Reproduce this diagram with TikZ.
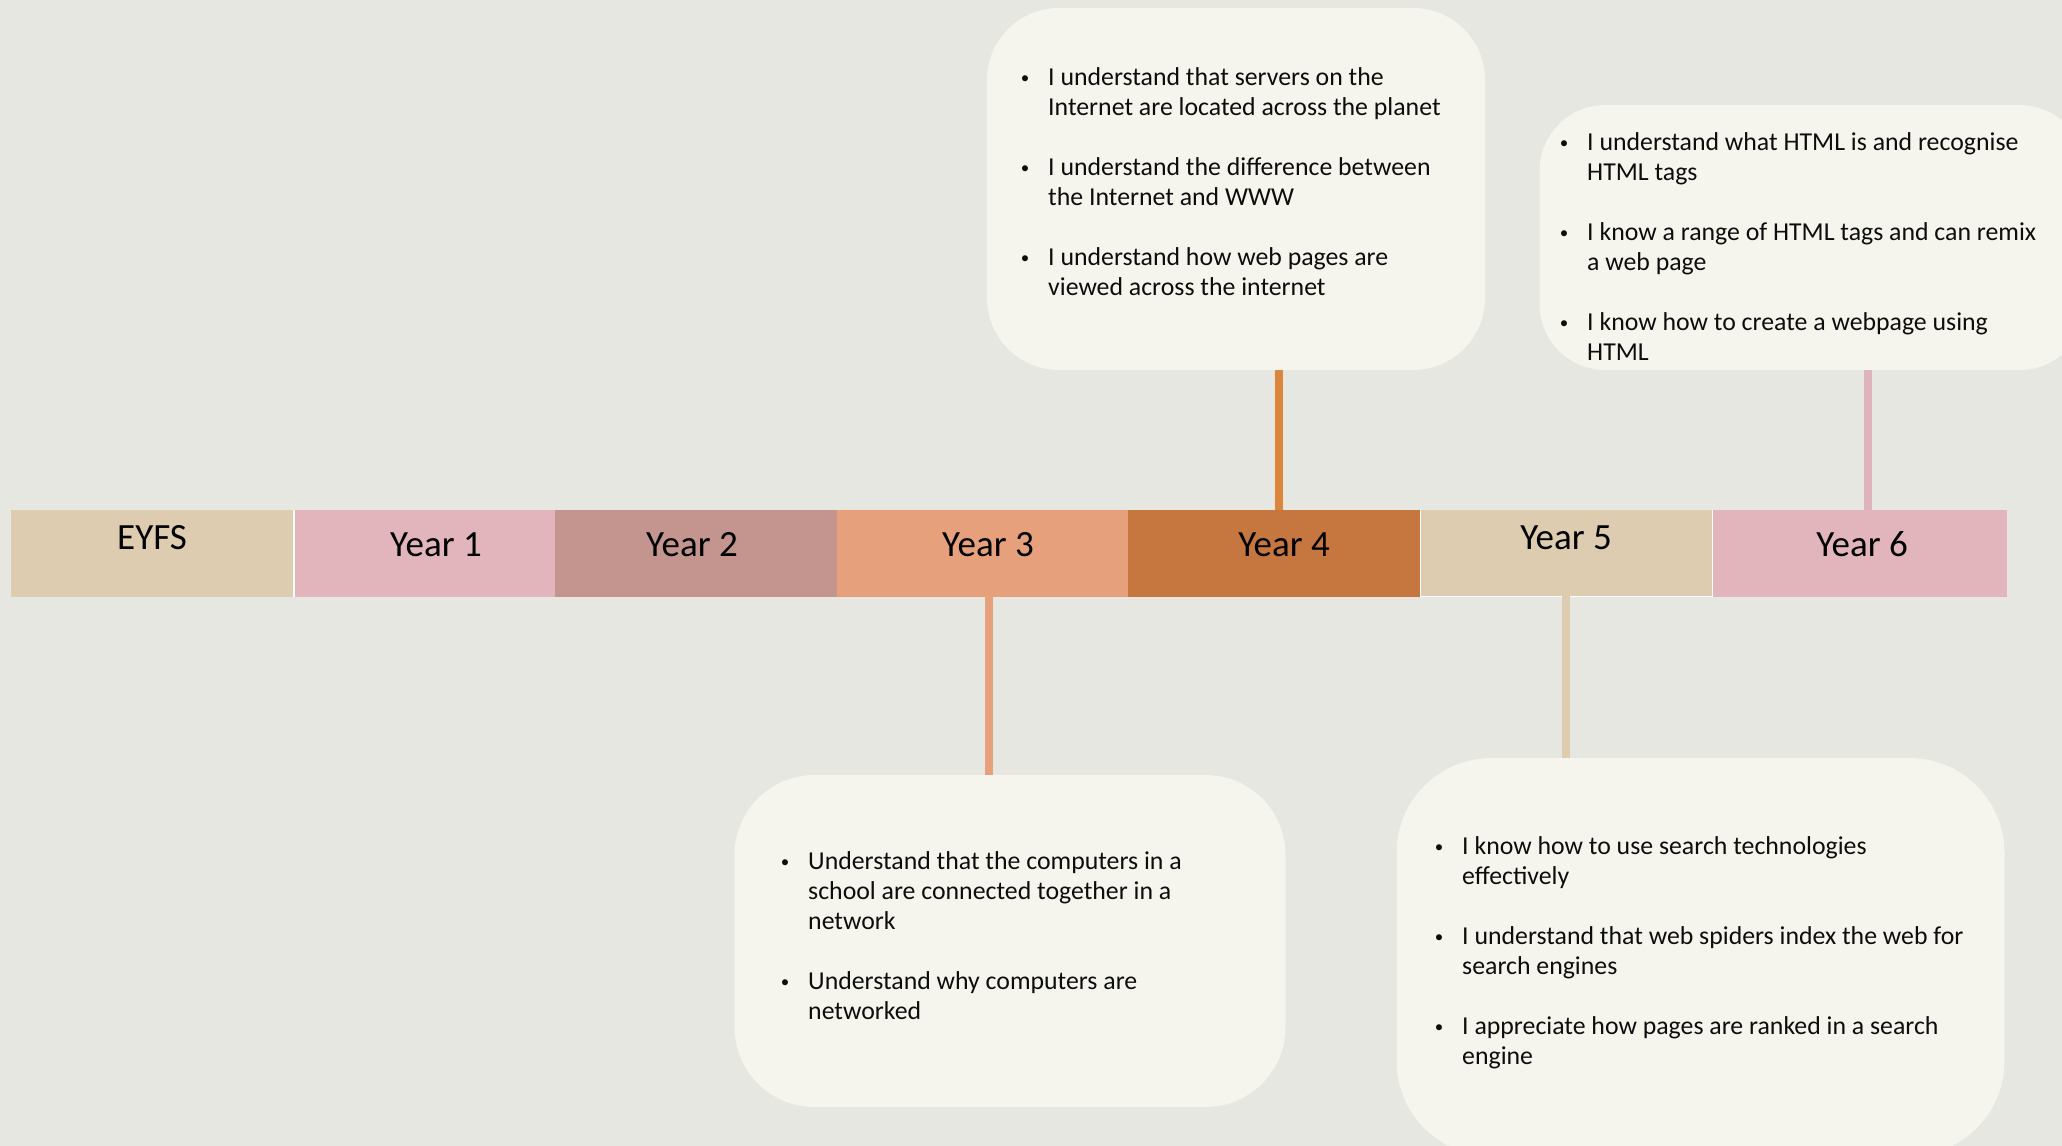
\documentclass[tikz,border=0pt]{standalone}
\usepackage{fontspec}
\setmainfont{Carlito}
\definecolor{bg}{HTML}{E7E7E1}
\definecolor{boxfill}{HTML}{F5F5EE}
\definecolor{cBeige}{HTML}{DDCCB0}
\definecolor{cPink}{HTML}{E2B5BD}
\definecolor{cRose}{HTML}{C4958F}
\definecolor{cPeach}{HTML}{E6A07C}
\definecolor{cRust}{HTML}{C6773F}
\definecolor{cOrange}{HTML}{DC853B}
\definecolor{cPinkLine}{HTML}{DFB3BD}
\newcommand\bitem[1]{\par\hangindent=23pt\hangafter=1\noindent\rule{0pt}{20pt}\makebox[23pt][l]{\makebox[0pt][c]{\raisebox{1.5pt}{\fontsize{17pt}{17pt}\selectfont •}}}#1}
\newcommand\bullist[1]{\begin{minipage}[t]{560pt}\fontsize{25.8pt}{30pt}\selectfont\setlength{\parskip}{30pt}\setlength{\parindent}{0pt}#1\end{minipage}}
\tikzset{
  seg/.style={rectangle, inner sep=0pt, outer sep=0pt, anchor=north west, minimum height=87pt},
  lab/.style={anchor=base, inner sep=0pt, font=\fontsize{37pt}{44pt}\selectfont, text=black},
  bubble/.style={rectangle, fill=boxfill, inner sep=0pt, outer sep=0pt, anchor=north west},
  bul/.style={anchor=north west, inner sep=0pt, text=black!95},
  conn/.style={line width=8pt}
}
\begin{document}
\begin{tikzpicture}[x=1pt,y=-1pt]
\fill[bg] (0,0) rectangle (2062,1146);
\clip (0,0) rectangle (2062,1146);
% bar
\fill[white] (11,510) rectangle (2007,597);
\node[seg, fill=cBeige, minimum width=282pt] (s0) at (11,510) {};
\node[seg, fill=cPink,  minimum width=260pt] (s1) at (295,510) {};
\node[seg, fill=cRose,  minimum width=282pt] (s2) at (555,510) {};
\node[seg, fill=cPeach, minimum width=291pt] (s3) at (837,510) {};
\node[seg, fill=cRust,  minimum width=292pt] (s4) at (1128,510) {};
\node[seg, fill=cBeige, minimum width=291pt, minimum height=86pt] (s5) at (1421,510) {};
\node[seg, fill=cPink,  minimum width=294pt] (s6) at (1713,510) {};
\node[lab] (l0) at (152,549) {EYFS};
\node[lab] (l1) at (436,556.5) {Year 1};
\node[lab] (l2) at (692,556.5) {Year 2};
\node[lab] (l3) at (988,556.5) {Year 3};
\node[lab] (l4) at (1284,556.5) {Year 4};
\node[lab] (l5) at (1566,549) {Year 5};
\node[lab] (l6) at (1862,556.5) {Year 6};
% bubbles
\node[bubble, rounded corners=72pt, minimum width=498pt, minimum height=362pt] (b4) at (987,8) {};
\node[bubble, rounded corners=66pt, minimum width=546pt, minimum height=265pt] (b6) at (1539.5,105) {};
\node[bubble, rounded corners=80pt, minimum width=551pt, minimum height=332pt] (b3) at (734.5,775) {};
\node[bubble, rounded corners=95pt, minimum width=608pt, minimum height=398pt] (b5) at (1396.5,758) {};
% connector x positions
\coordinate (x3) at (989,0);
\coordinate (x4) at (1279,0);
\coordinate (x5) at (1566,0);
\coordinate (x6) at (1868,0);
\draw[conn, cOrange] (b4.south -| x4) -- (s4.north -| x4);
\draw[conn, cPinkLine] (b6.south -| x6) -- (s6.north -| x6);
\draw[conn, cPeach] (s3.south -| x3) -- (b3.north -| x3);
\draw[conn, cBeige] (s5.south -| x5) -- (b5.north -| x5);
% texts
\node[bul] (t4) at (1025,65) {\bullist{%
\bitem{I understand that servers on the\\Internet are located across the planet}
\bitem{I understand the difference between\\the Internet and WWW}
\bitem{I understand how web pages are\\viewed across the internet}}};
\node[bul] (t6) at (1564,130) {\bullist{%
\bitem{I understand what HTML is and recognise\\HTML tags}
\bitem{I know a range of HTML tags and can remix\\a web page}
\bitem{I know how to create a webpage using\\HTML}}};
\node[bul] (t3) at (785,849) {\bullist{%
\bitem{Understand that the computers in a\\school are connected together in a\\network}
\bitem{Understand why computers are\\networked}}};
\node[bul] (t5) at (1439,834) {\bullist{%
\bitem{I know how to use search technologies\\effectively}
\bitem{I understand that web spiders index the web for\\search engines}
\bitem{I appreciate how pages are ranked in a search\\engine}}};
\end{tikzpicture}
\end{document}
